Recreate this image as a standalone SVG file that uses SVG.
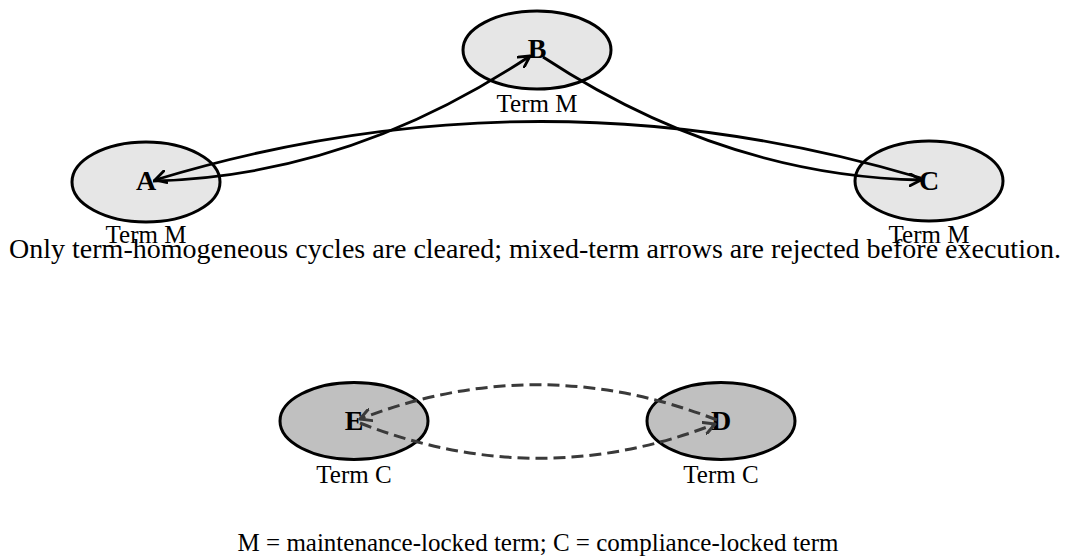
<svg xmlns="http://www.w3.org/2000/svg" width="1067" height="557" viewBox="0 0 1067 557">
  <defs>
    <style>
      .nodeM { fill: #e6e6e6; stroke: #000; stroke-width: 3; }
      .nodeC { fill: #c0c0c0; stroke: #000; stroke-width: 3; }
      .lbl { font-family: "Liberation Serif", "Times New Roman", serif; font-weight: bold; font-size: 28px; text-anchor: middle; fill: #000; }
      .term { font-family: "Liberation Serif", "Times New Roman", serif; font-size: 25px; text-anchor: middle; fill: #000; }
      .cap { font-family: "Liberation Serif", "Times New Roman", serif; font-size: 28px; text-anchor: middle; fill: #000; }
      .cap2 { font-family: "Liberation Serif", "Times New Roman", serif; font-size: 25px; text-anchor: middle; fill: #000; }
      .edge { fill: none; stroke: #000; stroke-width: 2.8; }
      .dash { fill: none; stroke: #3a3a3a; stroke-width: 3; stroke-dasharray: 12 6; }
    </style>
    <marker id="arr" viewBox="0 0 14 14" refX="12" refY="7" markerWidth="14" markerHeight="14" markerUnits="userSpaceOnUse" orient="auto">
      <path d="M1,1 L12,7 L1,13" fill="none" stroke="#000" stroke-width="2.8" stroke-linecap="round" stroke-linejoin="round"/>
    </marker>
    <marker id="arrD" viewBox="0 0 14 14" refX="12" refY="7" markerWidth="14" markerHeight="14" markerUnits="userSpaceOnUse" orient="auto">
      <path d="M1,1 L12,7 L1,13" fill="none" stroke="#3a3a3a" stroke-width="3" stroke-linecap="round" stroke-linejoin="round"/>
    </marker>
  </defs>
  <rect width="1067" height="557" fill="#fff"/>

  <g id="node-B">
    <ellipse class="nodeM" cx="537" cy="50" rx="74" ry="39"/>
    <text class="lbl" x="537" y="58">B</text>
    <text class="term" x="537" y="112">Term M</text>
  </g>
  <g id="node-A">
    <ellipse class="nodeM" cx="146" cy="182" rx="74" ry="40"/>
    <text class="lbl" x="146" y="190">A</text>
    <text class="term" x="146" y="243">Term M</text>
  </g>
  <g id="node-C">
    <ellipse class="nodeM" cx="929" cy="181" rx="74" ry="40"/>
    <text class="lbl" x="929" y="190">C</text>
    <text class="term" x="929" y="243">Term M</text>
  </g>
  <g id="node-E">
    <ellipse class="nodeC" cx="354" cy="421" rx="74" ry="38.5"/>
    <text class="lbl" x="354" y="430">E</text>
    <text class="term" x="354" y="483">Term C</text>
  </g>
  <g id="node-D">
    <ellipse class="nodeC" cx="721" cy="421" rx="74" ry="38.5"/>
    <text class="lbl" x="721" y="430">D</text>
    <text class="term" x="721" y="483">Term C</text>
  </g>

  <g id="connectors">
    <path class="edge" d="M153,181 Q350,176 530,56" marker-end="url(#arr)"/>
    <path class="edge" d="M543,57 Q724,176 921,180" marker-end="url(#arr)"/>
    <path class="edge" d="M921,178 Q537,64 155,180" marker-end="url(#arr)"/>
    <path class="dash" d="M717,420 Q538,350 360,419" marker-end="url(#arrD)"/>
    <path class="dash" d="M360,423 Q538,493 715,424" marker-end="url(#arrD)"/>
  </g>

  <text class="cap" x="535" y="258">Only term-homogeneous cycles are cleared; mixed-term arrows are rejected before execution.</text>
  <text class="cap2" x="538" y="551">M = maintenance-locked term; C = compliance-locked term</text>
</svg>
